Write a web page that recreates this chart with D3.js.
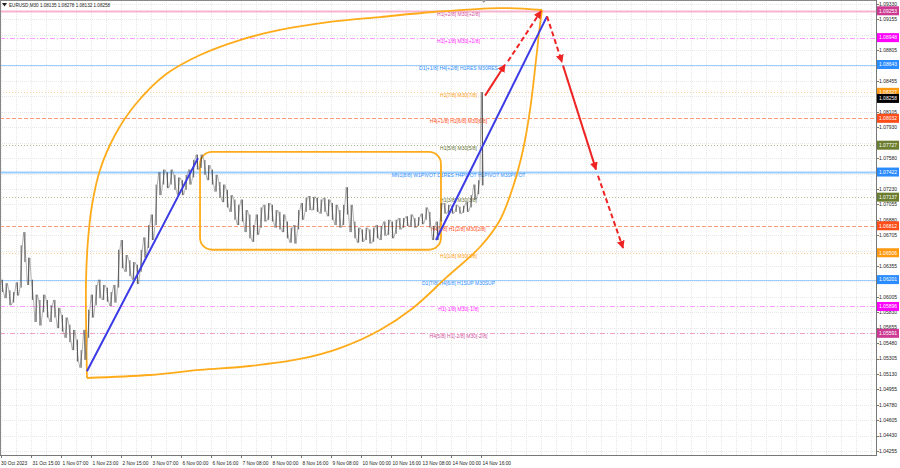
<!DOCTYPE html>
<html><head><meta charset="utf-8">
<script src="https://cdn.jsdelivr.net/npm/d3@7"></script>
<style>body{margin:0;background:#fff}svg{display:block}text{font-family:"Liberation Sans",Arial,sans-serif}</style>
</head><body><svg id="c" width="900" height="468"></svg>
<script>
// ---------------- DATA ----------------
const symbolTitle = "EURUSD,M30  1.08135 1.08278 1.08132 1.08258";
const timeLabels = ["30 Oct 2023","31 Oct 15:00","1 Nov 07:00","1 Nov 23:00","2 Nov 15:00","3 Nov 07:00","6 Nov 00:00","6 Nov 16:00","7 Nov 08:00","8 Nov 00:00","8 Nov 16:00","9 Nov 08:00","10 Nov 00:00","10 Nov 16:00","13 Nov 08:00","14 Nov 00:00","14 Nov 16:00"];
const barsPerLabel = 32;      // M30 bars between time labels
const barsPerEntry = 4;       // each price entry below covers 4 M30 bars (2 hours)
const priceTicks = [1.09330,1.09155,1.08980,1.08805,1.08630,1.08455,1.08280,1.08105,1.07930,1.07755,1.07580,1.07405,1.07230,1.07055,1.06880,1.06705,1.06530,1.06355,1.06180,1.06005,1.05830,1.05655,1.05480,1.05305,1.05130,1.04955,1.04780,1.04605,1.04430,1.04255];
const highs = [1.0620,1.0616,1.0608,1.0606,1.0617,1.0659,1.0674,1.0645,1.0620,1.0603,
1.0597,1.0603,1.0597,1.0591,1.0597,1.0588,1.0580,1.0577,1.0569,1.0563,
1.0552,1.0540,1.0563,1.0586,1.0603,1.0614,1.0620,1.0614,1.0611,1.0606,
1.0614,1.0654,1.0665,1.0648,1.0642,1.0640,1.0637,1.0654,1.0668,1.0682,
1.0694,1.0728,1.0742,1.0745,1.0742,1.0745,1.0739,1.0736,1.0733,1.0739,
1.0745,1.0756,1.0762,1.0762,1.0756,1.0750,1.0745,1.0739,1.0731,1.0728,
1.0722,1.0716,1.0711,1.0705,1.0711,1.0699,1.0694,1.0682,1.0694,1.0702,
1.0705,1.0707,1.0705,1.0699,1.0697,1.0694,1.0686,1.0679,1.0682,1.0699,
1.0707,1.0713,1.0715,1.0714,1.0713,1.0711,1.0713,1.0711,1.0707,1.0705,
1.0699,1.0705,1.0725,1.0705,1.0686,1.0679,1.0677,1.0679,1.0677,1.0679,
1.0682,1.0681,1.0686,1.0688,1.0686,1.0688,1.0690,1.0690,1.0692,1.0694,
1.0690,1.0691,1.0695,1.0702,1.0697,1.0681,1.0686,1.0707,1.0707,1.0705,
1.0704,1.0705,1.0703,1.0704,1.0708,1.0716,1.0728,1.0733,1.0833];
const lows = [1.0606,1.0599,1.0591,1.0594,1.0602,1.0611,1.0640,1.0614,1.0597,1.0572,
1.0568,1.0583,1.0577,1.0572,1.0577,1.0565,1.0561,1.0554,1.0549,1.0540,
1.0527,1.0520,1.0529,1.0554,1.0577,1.0591,1.0599,1.0597,1.0595,1.0590,
1.0594,1.0611,1.0633,1.0629,1.0624,1.0620,1.0615,1.0629,1.0645,1.0656,
1.0665,1.0682,1.0716,1.0728,1.0724,1.0728,1.0722,1.0716,1.0716,1.0722,
1.0728,1.0736,1.0745,1.0747,1.0739,1.0733,1.0728,1.0720,1.0713,1.0708,
1.0702,1.0697,1.0688,1.0682,1.0686,1.0674,1.0667,1.0663,1.0671,1.0679,
1.0686,1.0688,1.0686,1.0679,1.0677,1.0674,1.0667,1.0662,1.0661,1.0677,
1.0688,1.0697,1.0699,1.0699,1.0697,1.0695,1.0697,1.0692,1.0688,1.0682,
1.0679,1.0682,1.0694,1.0674,1.0667,1.0662,1.0663,1.0665,1.0661,1.0663,
1.0667,1.0665,1.0670,1.0671,1.0667,1.0672,1.0677,1.0679,1.0681,1.0680,
1.0679,1.0681,1.0683,1.0688,1.0679,1.0665,1.0665,1.0686,1.0695,1.0696,
1.0695,1.0697,1.0695,1.0696,1.0697,1.0702,1.0711,1.0717,1.0727];
const lastPrice = 1.08258;
const levelPrices = [1.09253,1.08948,1.08643,1.08327,1.08032,1.07727,1.07422,1.07137,1.06812,1.06506,1.06201,1.05896,1.05591];
const levelNames = ["H1[+2/8] M30[+2/8]","H1[+1/8] M30[+1/8]","D1[+1/8] H4[+2/8] H1RES M30RES","H1[7/8] M30[7/8]","H4[+1/8] H1[6/8] M30[6/8]","H1[5/8] M30[5/8]","MN1[8/8] W1PIVOT D1RES H4PIVOT H1PIVOT M30PIVOT","H1[3/8] M30[3/8]","H4[7/8] H1[2/8] M30[2/8]","H1[1/8] M30[1/8]","D1[7/8] H4[6/8] H1SUP M30SUP","H1[-1/8] M30[-1/8]","H4[5/8] H1[-2/8] M30[-2/8]"];
const levelKinds = ["pink","magenta","blue","orange","red","olive","blueBold","olive","red","orange","blue","magenta","pinkDash"];
const levelTextBar = 488;
// drawing objects in (bar, price)
const trendLines = [[91.7,1.0516,210.1,1.0758],[464.0,1.0665,582.4,1.0919]];
const arrowSegs = [[516.3,1.0829,537.6,1.0864,0],[540.8,1.0868,576.0,1.0925,1],[582.4,1.0919,598.4,1.0867,1],[599.5,1.0863,634.7,1.0745,0],[636.8,1.0738,663.5,1.0656,1]];
const boxBars = [212.3,469.3], boxPrices = [1.0765,1.0654];
const arcLowerBars =   [91.7,158.9,212.3,265.6,318.9,361.6,404.3,439.5,475.7,510.9,532.3,546.1,556.8,564.3,570.7,574.9,577.1];
const arcLowerPrices = [1.05084,1.05118,1.05175,1.05220,1.05300,1.05424,1.05629,1.05879,1.06231,1.06571,1.06878,1.07252,1.07672,1.08127,1.08694,1.09092,1.09262];
const arcUpperBars =   [577.1,532.3,460.8,404.3,350.9,297.6,254.9,212.3,174.9,142.9,121.6,105.6,97.1,92.8,90.7,90.7,91.7];
const arcUpperPrices = [1.09262,1.09284,1.09239,1.09182,1.09126,1.09035,1.08921,1.08751,1.08524,1.08183,1.07843,1.07445,1.07048,1.06651,1.06197,1.05743,1.05084];

// ---------------- STYLES ----------------
const kindStyle = {
  pink:{line:"#f7b3cd",w:2,dash:null,box:"#cc3a92",text:"#d0509d"},
  pinkDash:{line:"#f0a0c8",w:1,dash:"5,2,1,2",box:"#cc3a92",text:"#d0509d"},
  magenta:{line:"#ff9cff",w:1,dash:"5,2,1,2",box:"#ff00ff",text:"#ff22ff"},
  blue:{line:"#9ccdff",w:1,dash:null,box:"#2a8cff",text:"#2a8cff"},
  blueBold:{line:"#9ccdff",w:2,dash:null,box:"#2a8cff",text:"#2a8cff"},
  orange:{line:"#ffd199",w:1,dash:"1,2",box:"#ff9a10",text:"#ff9a10"},
  red:{line:"#ff9a7a",w:1,dash:"4,2",box:"#ff4d1a",text:"#ff4d1a"},
  olive:{line:"#aebb88",w:1,dash:"1,2",box:"#6b7d2e",text:"#5f7030"}
};
const W=900,H=468, plotR=876, plotB=455;
const svg=d3.select("#c");
const x=d3.scaleLinear().domain([0,512]).range([1,481]);
const y=d3.scaleLinear().domain([1.04255,1.09330]).range([451,4]);

// grid
const g=svg.append("g");
g.selectAll("line.hg").data(priceTicks).join("line").attr("x1",0).attr("x2",plotR).attr("y1",d=>Math.round(y(d))+0.5).attr("y2",d=>Math.round(y(d))+0.5).attr("stroke","#e8e8e8").attr("stroke-dasharray","1,1");
const vgrid=d3.range(0,940,16);
g.selectAll("line.vg").data(vgrid).join("line").attr("y1",0).attr("y2",plotB).attr("x1",d=>Math.round(x(d))+0.5).attr("x2",d=>Math.round(x(d))+0.5).attr("stroke","#e8e8e8").attr("stroke-dasharray","1,1");

// levels
const lv=svg.append("g");
levelPrices.forEach((p,i)=>{
  const s=kindStyle[levelKinds[i]], yy=Math.round(y(p))+0.5;
  lv.append("line").attr("x1",0).attr("x2",plotR).attr("y1",yy).attr("y2",yy).attr("stroke",s.line).attr("stroke-width",s.w).attr("stroke-dasharray",s.dash);
  lv.append("text").attr("x",x(levelTextBar)).attr("y",yy+4.5).attr("text-anchor","middle").attr("font-size",5).attr("fill",s.text).text(levelNames[i]);
});

// orange box and arcs
svg.append("rect").attr("x",x(boxBars[0])).attr("y",y(boxPrices[0])).attr("width",x(boxBars[1])-x(boxBars[0])).attr("height",y(boxPrices[1])-y(boxPrices[0])).attr("rx",12).attr("fill","none").attr("stroke","#ffab1a").attr("stroke-width",1.8);
const arcLine=d3.line().x(d=>x(d[0])).y(d=>y(d[1])).curve(d3.curveCatmullRom);
svg.append("path").attr("d",arcLine(arcLowerBars.map((b,i)=>[b,arcLowerPrices[i]]))).attr("fill","none").attr("stroke","#ffab1a").attr("stroke-width",1.8);
svg.append("path").attr("d",arcLine(arcUpperBars.map((b,i)=>[b,arcUpperPrices[i]]))).attr("fill","none").attr("stroke","#ffab1a").attr("stroke-width",1.8);

// price bars
const cx=i=>x(i*barsPerEntry+1.5);
const pg=svg.append("g");
const zig=[];
highs.forEach((h,i)=>{ if(i%2===0){zig.push([cx(i)-1.2,y(h)]);zig.push([cx(i)+1.2,y(lows[i])]);} else {zig.push([cx(i)-1.2,y(lows[i])]);zig.push([cx(i)+1.2,y(h)]);} });
pg.append("path").attr("d",d3.line()(zig)).attr("fill","none").attr("stroke","#666").attr("stroke-width",0.5);
pg.selectAll("line").data(highs).join("line").attr("x1",(d,i)=>cx(i)).attr("x2",(d,i)=>cx(i)).attr("y1",d=>y(d)).attr("y2",(d,i)=>y(lows[i])).attr("stroke","#333").attr("stroke-width",0.8);

// trend lines
svg.selectAll("line.tl").data(trendLines).join("line").attr("x1",d=>x(d[0])).attr("y1",d=>y(d[1])).attr("x2",d=>x(d[2])).attr("y2",d=>y(d[3])).attr("stroke","#3a3ae6").attr("stroke-width",2);

// arrows
const defs=svg.append("defs");
defs.append("marker").attr("id","ah").attr("viewBox","0 0 10 10").attr("refX",9).attr("refY",5).attr("markerWidth",4).attr("markerHeight",4).attr("orient","auto").append("path").attr("d","M0,0L10,5L0,10z").attr("fill","#ee2424");
svg.selectAll("line.ar").data(arrowSegs).join("line").attr("x1",d=>x(d[0])).attr("y1",d=>y(d[1])).attr("x2",d=>x(d[2])).attr("y2",d=>y(d[3])).attr("stroke","#ee2424").attr("stroke-width",2).attr("stroke-dasharray",d=>d[4]?"5,3":null).attr("marker-end","url(#ah)");

// frame & axes
svg.append("rect").attr("x",0.5).attr("y",0.5).attr("width",plotR).attr("height",plotB).attr("fill","none").attr("stroke","#888");
svg.append("rect").attr("x",plotR+1).attr("y",0).attr("width",W-plotR-1).attr("height",H).attr("fill","#fff");
svg.append("rect").attr("x",0).attr("y",plotB+1).attr("width",W).attr("height",H-plotB-1).attr("fill","#fff");
svg.append("line").attr("x1",plotR+0.5).attr("x2",plotR+0.5).attr("y1",0).attr("y2",plotB+1).attr("stroke","#777");
svg.append("line").attr("x1",0).attr("x2",plotR+1).attr("y1",plotB+0.5).attr("y2",plotB+0.5).attr("stroke","#777");
const ya=svg.append("g");
const boxes=levelPrices.map((p,i)=>({p,c:kindStyle[levelKinds[i]].box})).concat([{p:lastPrice,c:"#000"}]);
priceTicks.forEach(p=>{const yy=y(p);
  ya.append("line").attr("x1",plotR).attr("x2",plotR+3).attr("y1",Math.round(yy)+0.5).attr("y2",Math.round(yy)+0.5).attr("stroke","#777");
  const hidden=boxes.some(b=>Math.abs(y(b.p)-yy)<4);
  if(!hidden) ya.append("text").attr("x",879).attr("y",yy+1.8).attr("font-size",5).attr("fill","#222").text(p.toFixed(5));});
boxes.forEach(b=>{const yy=y(b.p);
  ya.append("rect").attr("x",plotR+1).attr("y",yy-4.5).attr("width",22).attr("height",9).attr("fill",b.c);
  ya.append("text").attr("x",plotR+12).attr("y",yy+1.8).attr("text-anchor","middle").attr("font-size",5).attr("fill","#fff").text(b.p.toFixed(5));});
const xa=svg.append("g");
timeLabels.forEach((t,i)=>{const xx=Math.round(x(i*barsPerLabel))+0.5;
  xa.append("line").attr("x1",xx).attr("x2",xx).attr("y1",plotB).attr("y2",plotB+3).attr("stroke","#777");
  xa.append("text").attr("x",i===0?1:xx+1).attr("y",465).attr("font-size",4.8).attr("fill","#222").text(t);});
// header
svg.append("path").attr("d","M2,3L7,3L4.5,6.5Z").attr("fill","#222");
svg.append("text").attr("x",9).attr("y",7).attr("font-size",4.6).attr("fill","#222").text(symbolTitle);
svg.append("path").attr("d",`M${x(515)-2.5},0L${x(515)+2.5},0L${x(515)},3Z`).attr("fill","#999");
</script></body></html>
